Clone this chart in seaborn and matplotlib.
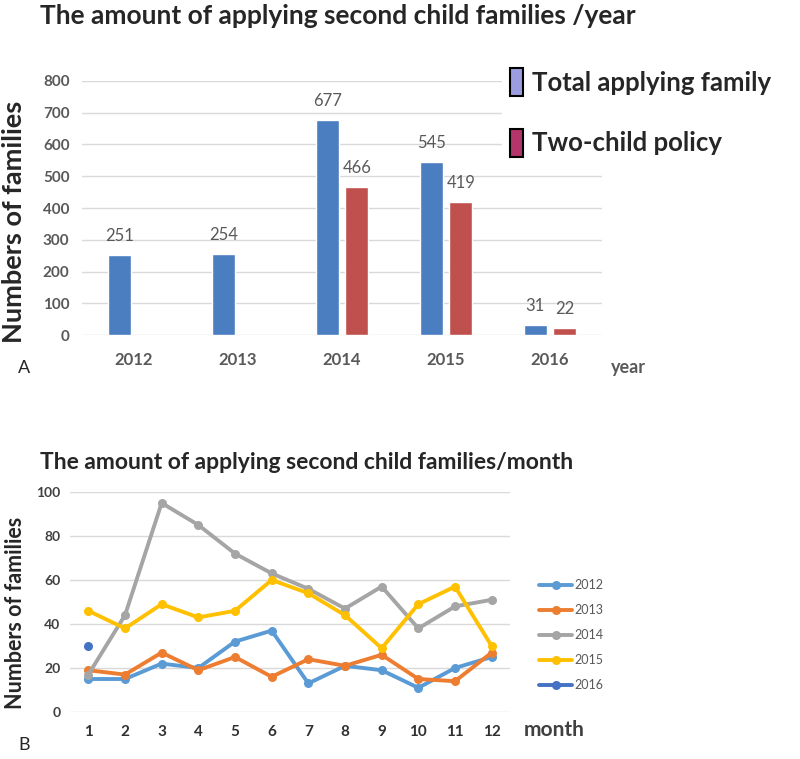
import numpy as np
import pandas as pd
import seaborn as sns
import matplotlib.pyplot as plt
from matplotlib.patches import Patch

# --- Data ---
years = ['2012', '2013', '2014', '2015', '2016']
total_family = [251, 254, 677, 545, 31]
two_child = [np.nan, np.nan, 466, 419, 22]

months = list(range(1, 13))
m2012 = [15, 15, 22, 20, 32, 37, 13, 21, 19, 11, 20, 25]
m2013 = [19, 17, 27, 19, 25, 16, 24, 21, 26, 15, 14, 27]
m2014 = [17, 44, 95, 85, 72, 63, 56, 47, 57, 38, 48, 51]
m2015 = [46, 38, 49, 43, 46, 60, 54, 44, 29, 49, 57, 30]
m2016 = [30] + [np.nan] * 11

bar_labels = ['Total applying family', 'Two-child policy']
bar_colors = ['#4A7EC0', '#C0504D']
legend_colors = ['#9C9CE0', '#B4356A']
line_colors = ['#5B9BD5', '#ED7D31', '#A5A5A5', '#FFC000', '#4472C4']

sns.set_theme(style="white")
plt.rcParams['font.family'] = ['Lato', 'DejaVu Sans']

fig = plt.figure(figsize=(8, 7.59), dpi=100)

# --- Panel A: families per year ---
df_year = pd.DataFrame({
    'year': years * 2,
    'count': total_family + two_child,
    'kind': [bar_labels[0]] * 5 + [bar_labels[1]] * 5,
})

ax1 = fig.add_axes([0.1025, 0.5586, 0.65, 0.3347])
sns.barplot(data=df_year, x='year', y='count', hue='kind', palette=bar_colors,
            width=0.568, gap=0.22, saturation=1, legend=False, ax=ax1)
ax1.set_ylim(0, 800)
ax1.set_xlim(-0.5, 4.5)
ax1.set_yticks(range(0, 801, 100))
ax1.yaxis.grid(True, color='#D9D9D9', linewidth=1)
ax1.set_axisbelow(True)
sns.despine(ax=ax1, left=True, bottom=True)
ax1.set_xlabel('')
ax1.set_ylabel('')
ax1.tick_params(axis='y', length=0, pad=9, labelsize=11, labelcolor='#595959')
ax1.tick_params(axis='x', length=0, pad=12, labelsize=12, labelcolor='#595959')
for lab in ax1.get_xticklabels() + ax1.get_yticklabels():
    lab.set_fontweight('bold')

for cont in ax1.containers:
    ax1.bar_label(cont, fmt='%g', padding=8, fontsize=12, color='#595959')

fig.text(0.05, 0.979, 'The amount of applying second child families /year',
         fontsize=19, fontweight='bold', va='center', ha='left')
fig.text(0.018, 0.708, 'Numbers of families', rotation=90, fontsize=19.5,
         fontweight='bold', va='center', ha='center')
fig.text(0.785, 0.516, 'year', fontsize=13, fontweight='bold', color='#595959',
         va='center', ha='center')
fig.text(0.03, 0.515, 'A', fontsize=13, va='center', ha='center')

handles = [Patch(facecolor=c, edgecolor='black', linewidth=1.5) for c in legend_colors]
fig.legend(handles, bar_labels, loc='upper left', bbox_to_anchor=(0.628, 0.92),
           frameon=True, framealpha=1, edgecolor='white', fancybox=False,
           prop={'size': 18.5, 'weight': 'bold'}, handlelength=0.5, handleheight=1.3,
           handletextpad=0.35, labelspacing=1.25, borderpad=0.3, borderaxespad=0)

# --- Panel B: families per month ---
df_month = pd.DataFrame({
    'month': months * 5,
    'count': m2012 + m2013 + m2014 + m2015 + m2016,
    'year': sum([[y] * 12 for y in years], []),
})

ax2 = fig.add_axes([0.0875, 0.0619, 0.55, 0.2899])
sns.lineplot(data=df_month, x='month', y='count', hue='year', palette=line_colors,
             marker='o', markersize=6.5, markeredgewidth=0, linewidth=2.8, ax=ax2)
ax2.set_xlim(0.5, 12.5)
ax2.set_ylim(0, 100)
ax2.set_xticks(months)
ax2.set_yticks(range(0, 101, 20))
ax2.yaxis.grid(True, color='#D9D9D9', linewidth=1)
ax2.set_axisbelow(True)
sns.despine(ax=ax2, left=True, bottom=True)
ax2.set_xlabel('')
ax2.set_ylabel('')
ax2.tick_params(axis='y', length=0, pad=7, labelsize=10, labelcolor='#404040')
ax2.tick_params(axis='x', length=0, pad=9, labelsize=11, labelcolor='#303030')
for lab in ax2.get_xticklabels() + ax2.get_yticklabels():
    lab.set_fontweight('bold')

ax2.legend(loc='upper left', bbox_to_anchor=(0.66, 0.252), bbox_transform=fig.transFigure,
           frameon=False, fontsize=9, handlelength=2.6, labelspacing=1.05,
           handletextpad=0.2, labelcolor='#595959')

fig.text(0.05, 0.391, 'The amount of applying second child families/month',
         fontsize=16.5, fontweight='bold', va='center', ha='left')
fig.text(0.019, 0.192, 'Numbers of families', rotation=90, fontsize=15.5,
         fontweight='bold', va='center', ha='center')
fig.text(0.693, 0.038, 'month', fontsize=15, fontweight='bold', color='#404040',
         va='center', ha='center')
fig.text(0.03, 0.018, 'B', fontsize=13, va='center', ha='center')

fig.savefig('out.png', dpi=100)
